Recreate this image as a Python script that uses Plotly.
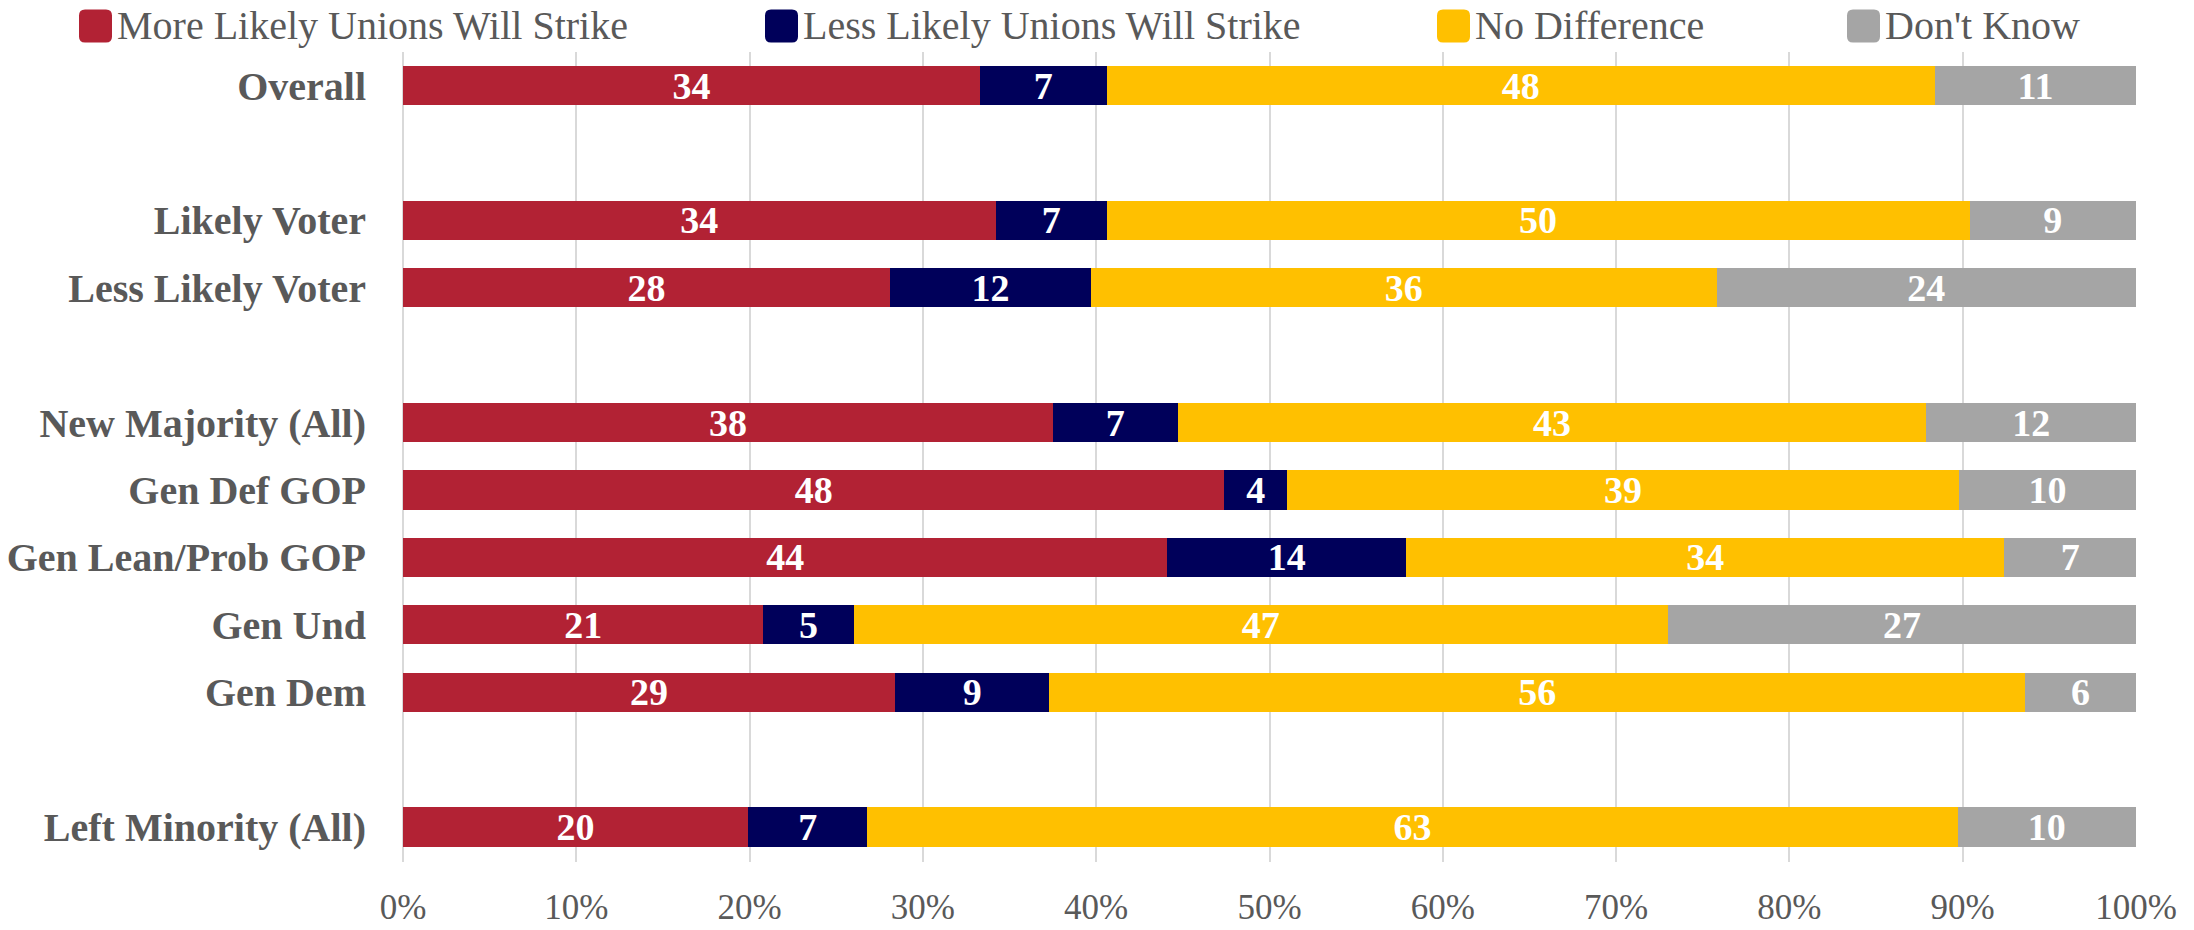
import plotly.graph_objects as go

# ---- data ----
categories = ["Overall", "Likely Voter", "Less Likely Voter", "New Majority (All)",
              "Gen Def GOP", "Gen Lean/Prob GOP", "Gen Und", "Gen Dem", "Left Minority (All)"]
groups_end_after = ["Overall", "Less Likely Voter", "Gen Dem"]  # blank row follows these

series_names = ["More Likely Unions Will Strike", "Less Likely Unions Will Strike",
                "No Difference", "Don't Know"]
more_likely = [33.3, 34.2, 28.1, 37.5, 47.4, 44.1, 20.8, 28.4, 19.9]
less_likely = [7.3, 6.4, 11.6, 7.2, 3.6, 13.8, 5.2, 8.9, 6.9]
no_difference = [47.8, 49.8, 36.1, 43.2, 38.8, 34.5, 47.0, 56.3, 62.9]
dont_know = [11.6, 9.6, 24.2, 12.1, 10.2, 7.6, 27.0, 6.4, 10.3]

more_likely_lbl = [34, 34, 28, 38, 48, 44, 21, 29, 20]
less_likely_lbl = [7, 7, 12, 7, 4, 14, 5, 9, 7]
no_difference_lbl = [48, 50, 36, 43, 39, 34, 47, 56, 63]
dont_know_lbl = [11, 9, 24, 12, 10, 7, 27, 6, 10]

x_ticks = [0, 10, 20, 30, 40, 50, 60, 70, 80, 90, 100]

# ---- style ----
colors = ["#B22234", "#00005A", "#FFC000", "#A5A5A5"]
text_gray = "#595959"
serif = "Liberation Serif, Times New Roman, serif"
W, H = 2194, 930
ML, MR, MT, MB = 403, 58, 52, 68

# category order with blank spacer rows
cat_order = []
spacer = 0
for c in categories:
    cat_order.append(c)
    if c in groups_end_after:
        spacer += 1
        cat_order.append(" " * spacer)

fig = go.Figure()
values = [more_likely, less_likely, no_difference, dont_know]
labels = [more_likely_lbl, less_likely_lbl, no_difference_lbl, dont_know_lbl]
for name, vals, lbls, col in zip(series_names, values, labels, colors):
    fig.add_trace(go.Bar(
        y=categories, x=vals, orientation="h", name=name,
        marker=dict(color=col, line=dict(width=0)),
        width=0.58,
        text=[str(v) for v in lbls], textposition="inside",
        insidetextanchor="middle", constraintext="none", textangle=0,
        textfont=dict(family=serif, size=38, color="white", weight="bold"),
        showlegend=False,
    ))

# ---- custom legend (rounded colour keys + text) ----
pw = W - ML - MR
ph = H - MT - MB
def px2x(px):
    return (px - ML) / pw
def py2y(py):
    return 1 - (py - MT) / ph

legend_key_x = [79, 765, 1437, 1847]
key = 33
r = 6
legend_cy = 26
shapes = []
annotations = []
for name, col, kx in zip(series_names, colors, legend_key_x):
    x0, x1 = px2x(kx), px2x(kx + key)
    y0, y1 = py2y(legend_cy + key / 2), py2y(legend_cy - key / 2)
    dx, dy = r / pw, r / ph
    path = (f"M{x0+dx},{y0} L{x1-dx},{y0} Q{x1},{y0} {x1},{y0+dy} "
            f"L{x1},{y1-dy} Q{x1},{y1} {x1-dx},{y1} L{x0+dx},{y1} "
            f"Q{x0},{y1} {x0},{y1-dy} L{x0},{y0+dy} Q{x0},{y0} {x0+dx},{y0} Z")
    shapes.append(dict(type="path", xref="paper", yref="paper", path=path,
                       fillcolor=col, line=dict(width=0), layer="above"))
    annotations.append(dict(xref="paper", yref="paper", x=px2x(kx + key + 3),
                            y=py2y(legend_cy), xanchor="left", yanchor="middle",
                            text=name, showarrow=False,
                            font=dict(family=serif, size=40, color=text_gray)))

fig.update_layout(
    width=W, height=H,
    barmode="stack",
    plot_bgcolor="white", paper_bgcolor="white",
    margin=dict(l=ML, r=MR, t=MT, b=MB, pad=0, autoexpand=False),
    shapes=shapes, annotations=annotations,
    showlegend=False,
)
fig.update_xaxes(
    range=[0, 100], tickvals=x_ticks, ticktext=[f"{t}%" for t in x_ticks],
    showgrid=True, gridcolor="#D9D9D9", gridwidth=1.5,
    zeroline=True, zerolinecolor="#D9D9D9", zerolinewidth=1.5,
    showline=False, ticks="", ticklabelstandoff=21, automargin=False,
    tickfont=dict(family=serif, size=35, color=text_gray),
)
fig.update_yaxes(
    type="category", categoryorder="array", categoryarray=cat_order,
    range=[len(cat_order) - 0.48, -0.5],
    showgrid=False, zeroline=False, showline=False, ticks="",
    ticklabelstandoff=36, automargin=False,
    tickfont=dict(family=serif, size=40, color=text_gray, weight="bold"),
)

fig.write_html("out.html", config={"displayModeBar": False},
               post_script="document.body.style.margin='0';document.body.style.overflow='hidden';")
